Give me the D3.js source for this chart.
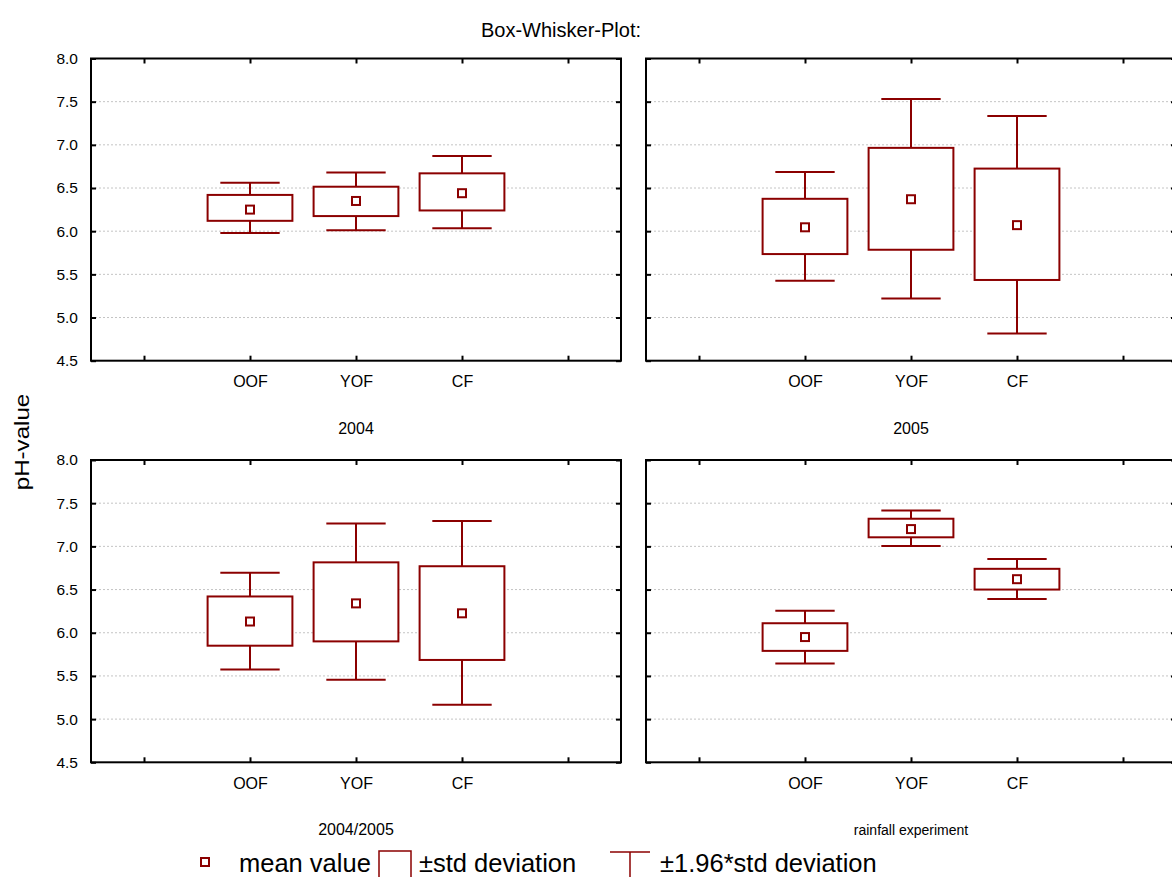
<!DOCTYPE html>
<html>
<head>
<meta charset="utf-8">
<script src="https://cdn.jsdelivr.net/npm/d3@7"></script>
<style>
  body { margin: 0; background: #fff; }
  svg { display: block; font-family: Arial, "Liberation Sans", sans-serif; }
</style>
</head>
<body>
<svg id="chart" width="1172" height="877"></svg>
<script>
// data
var categories = ["OOF", "YOF", "CF"];
var panelTitles = ["2004", "2005", "2004/2005", "rainfall experiment"];
var yTicks = [4.5, 5.0, 5.5, 6.0, 6.5, 7.0, 7.5, 8.0];
var gridValues = [5.0, 5.5, 6.0, 6.5, 7.0, 7.5];

var meanValues = [[6.25, 6.35, 6.44], [6.045, 6.37, 6.07], [6.13, 6.34, 6.225], [5.95, 7.20, 6.62]];
var sdHigh = [[6.42, 6.515, 6.67], [6.375, 6.965, 6.725], [6.42, 6.815, 6.77], [6.11, 7.32, 6.74]];
var sdLow = [[6.12, 6.175, 6.24], [5.735, 5.785, 5.435], [5.85, 5.90, 5.685], [5.79, 7.105, 6.50]];
var ciHigh = [[6.56, 6.68, 6.87], [6.685, 7.53, 7.335], [6.695, 7.265, 7.295], [6.255, 7.415, 6.855]];
var ciLow = [[5.98, 6.01, 6.035], [5.425, 5.22, 4.815], [5.575, 5.455, 5.165], [5.645, 7.005, 6.39]];

var legendLabels = ["mean value", "\u00b1std deviation", "\u00b11.96*std deviation"];

var red = "#8b0000";
var svg = d3.select("#chart");

// panel frames (col, row)
var cols = [[91, 621], [646, 1176]];
var rows = [[58.5, 360.7], [460, 762.3]];

svg.append("text")
    .attr("x", 561).attr("y", 37)
    .attr("text-anchor", "middle")
    .style("font-size", "20px")
    .text("Box-Whisker-Plot:");

svg.append("text")
    .attr("transform", "translate(29,442) rotate(-90) scale(1.15,1)")
    .attr("text-anchor", "middle")
    .style("font-size", "21px")
    .text("pH-value");

function draw_panel(p) {
  var c = cols[p % 2], r = rows[Math.floor(p / 2)];
  var x = d3.scaleLinear().domain([-0.5, 4.5]).range(c);
  var y = d3.scaleLinear().domain([4.5, 8.0]).range([r[1], r[0]]);
  var g = svg.append("g").attr("class", "panel");

  g.selectAll(".grid").data(gridValues).enter().append("line")
      .attr("x1", c[0]).attr("x2", c[1])
      .attr("y1", function(d) { return y(d); })
      .attr("y2", function(d) { return y(d); })
      .attr("stroke", "#c4c4c4")
      .attr("stroke-dasharray", "2,2");

  // inward ticks on all sides
  var xt = [0, 1, 2, 3, 4];
  var axes = [
    d3.axisTop(x).tickValues(xt).tickSize(-5).tickFormat(""),
    d3.axisBottom(x).tickValues(xt).tickSize(-5).tickFormat(""),
    d3.axisLeft(y).tickValues(yTicks).tickSize(-5).tickFormat(""),
    d3.axisRight(y).tickValues(yTicks).tickSize(-5).tickFormat("")
  ];
  var pos = ["translate(0," + r[0] + ")", "translate(0," + r[1] + ")",
             "translate(" + c[0] + ",0)", "translate(" + c[1] + ",0)"];
  axes.forEach(function(a, i) {
    var ag = g.append("g").attr("transform", pos[i]).call(a);
    ag.select(".domain").remove();
    ag.selectAll("line").attr("stroke", "#000").attr("stroke-width", 2);
  });

  // category labels
  var lab = g.append("g").attr("transform", "translate(0," + r[1] + ")")
      .call(d3.axisBottom(x).tickValues([1, 2, 3]).tickSize(0).tickPadding(15)
            .tickFormat(function(d) { return categories[d - 1]; }));
  lab.select(".domain").remove();
  lab.selectAll("text").style("font-size", "16px").attr("fill", "#000")
      .style("font-family", "Arial, 'Liberation Sans', sans-serif");

  if (p % 2 == 0) {
    var yl = g.append("g").attr("transform", "translate(" + c[0] + ",0)")
        .call(d3.axisLeft(y).tickValues(yTicks).tickSize(0).tickPadding(13)
              .tickFormat(d3.format(".1f")));
    yl.select(".domain").remove();
    yl.selectAll("text").style("font-size", "15.5px").attr("fill", "#000")
        .style("font-family", "Arial, 'Liberation Sans', sans-serif");
  }

  g.append("text")
      .attr("x", x(2)).attr("y", r[1] + 73)
      .attr("text-anchor", "middle")
      .style("font-size", p == 3 ? "14px" : "16px")
      .text(panelTitles[p]);

  g.append("rect")
      .attr("x", c[0]).attr("y", r[0])
      .attr("width", c[1] - c[0]).attr("height", r[1] - r[0])
      .attr("fill", "none").attr("stroke", "#000").attr("stroke-width", 2);

  var idx = [0, 1, 2];
  var bw = 0.8, cw = 0.56;
  var bx = g.selectAll(".bx").data(idx).enter().append("g");

  bx.append("line")
      .attr("x1", function(i) { return x(i + 1); })
      .attr("x2", function(i) { return x(i + 1); })
      .attr("y1", function(i) { return y(ciHigh[p][i]); })
      .attr("y2", function(i) { return y(ciLow[p][i]); })
      .attr("stroke", red).attr("stroke-width", 2);
  bx.append("line")
      .attr("x1", function(i) { return x(i + 1 - cw / 2); })
      .attr("x2", function(i) { return x(i + 1 + cw / 2); })
      .attr("y1", function(i) { return y(ciHigh[p][i]); })
      .attr("y2", function(i) { return y(ciHigh[p][i]); })
      .attr("stroke", red).attr("stroke-width", 2);
  bx.append("line")
      .attr("x1", function(i) { return x(i + 1 - cw / 2); })
      .attr("x2", function(i) { return x(i + 1 + cw / 2); })
      .attr("y1", function(i) { return y(ciLow[p][i]); })
      .attr("y2", function(i) { return y(ciLow[p][i]); })
      .attr("stroke", red).attr("stroke-width", 2);
  bx.append("rect")
      .attr("x", function(i) { return x(i + 1 - bw / 2); })
      .attr("width", function(i) { return x(bw) - x(0); })
      .attr("y", function(i) { return y(sdHigh[p][i]); })
      .attr("height", function(i) { return y(sdLow[p][i]) - y(sdHigh[p][i]); })
      .attr("fill", "#fff").attr("stroke", red).attr("stroke-width", 2);
  bx.append("rect")
      .attr("x", function(i) { return x(i + 1) - 4; })
      .attr("y", function(i) { return y(meanValues[p][i]) - 4; })
      .attr("width", 8).attr("height", 8)
      .attr("fill", "#fff").attr("stroke", red).attr("stroke-width", 2);
}

for (var p = 0; p < 4; p++) draw_panel(p);

// legend
var lg = svg.append("g").attr("class", "legend");
lg.append("rect").attr("x", 201).attr("y", 858).attr("width", 8).attr("height", 8)
    .attr("fill", "#fff").attr("stroke", red).attr("stroke-width", 2);
lg.append("rect").attr("x", 379).attr("y", 851).attr("width", 32).attr("height", 30)
    .attr("fill", "#fff").attr("stroke", red).attr("stroke-width", 1.5);
lg.append("line").attr("x1", 610).attr("x2", 650).attr("y1", 852).attr("y2", 852)
    .attr("stroke", red).attr("stroke-width", 1.5);
lg.append("line").attr("x1", 630).attr("x2", 630).attr("y1", 852).attr("y2", 880)
    .attr("stroke", red).attr("stroke-width", 1.5);

var legendX = [239, 419, 660];
lg.selectAll(".lt").data(legendLabels).enter().append("text")
    .attr("x", function(d, i) { return legendX[i]; })
    .attr("y", 872)
    .style("font-size", "25.5px")
    .text(function(d) { return d; });
</script>
</body>
</html>
